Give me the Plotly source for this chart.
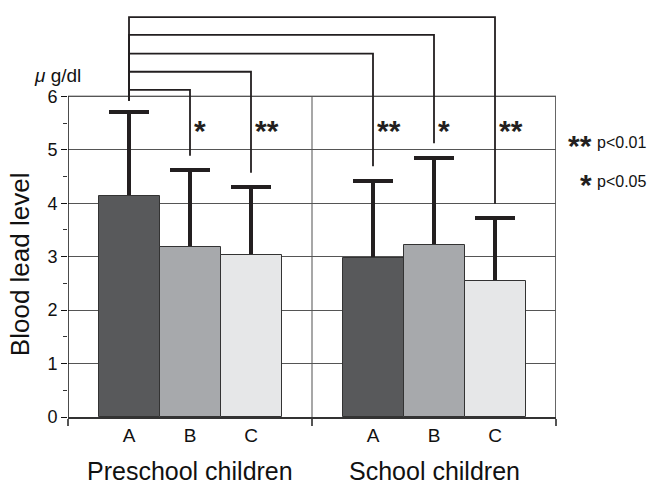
import plotly.graph_objects as go

# ---- data ----
groups = ["Preschool children", "School children"]
categories = ["A", "B", "C"]
preschool_mean = [4.13, 3.19, 3.04]
school_mean = [2.97, 3.21, 2.54]
preschool_sd = [1.57, 1.43, 1.26]
school_sd = [1.45, 1.64, 1.18]
# comparisons vs Preschool A: (group index, category index, mark)
comparisons = [(0, 1, "*"), (0, 2, "**"), (1, 0, "**"), (1, 1, "*"), (1, 2, "**")]
bracket_levels = [6.12, 6.46, 6.80, 7.15, 7.48]
y_ticks = [0, 1, 2, 3, 4, 5, 6]
legend_marks = ["**", "*"]
legend_texts = ["p<0.01", "p<0.05"]

colors = ["#58595b", "#a7a9ac", "#e6e7e8"]
FONT = "Liberation Sans, Arial, sans-serif"

means = [preschool_mean, school_mean]
sds = [preschool_sd, school_sd]

L, R, T, B = 68, 99, 10, 68
PW = 655 - L - R


def px_to_paper(px):
    return (px - L) / PW


xs, ys, es, cs, labels = [], [], [], [], []
for g in range(len(groups)):
    for c in range(len(categories)):
        xs.append(g * 4 + c)
        ys.append(means[g][c])
        es.append(sds[g][c])
        cs.append(colors[c])
        labels.append(categories[c])

sink = 0.05  # hide the lower cap of the one-sided error bar beneath the bar
fig = go.Figure()
fig.add_trace(go.Bar(
    x=xs, y=[v - sink for v in ys], width=1,
    marker=dict(color="rgba(0,0,0,0)", line=dict(width=0)),
    error_y=dict(type="data", symmetric=False, array=[e + sink for e in es],
                 arrayminus=[0] * len(es), color="#231f20", thickness=4, width=20),
    showlegend=False, hoverinfo="skip",
))
fig.add_trace(go.Bar(
    x=xs, y=ys, width=1,
    marker=dict(color=cs, line=dict(color="#333333", width=1)),
    showlegend=False, hoverinfo="skip",
))

shapes = []
shapes.append(dict(type="line", xref="x", yref="y", x0=-1, x1=-1, y0=0, y1=6,
                   line=dict(color="#111", width=1.5), layer="above"))
shapes.append(dict(type="line", xref="x", yref="y", x0=3, x1=3, y0=0, y1=6,
                   line=dict(color="#8a8a8a", width=1.5), layer="below"))
shapes.append(dict(type="line", xref="x", yref="y", x0=7, x1=7, y0=0, y1=6,
                   line=dict(color="#333", width=1.5), layer="below"))
shapes.append(dict(type="line", xref="x", yref="y", x0=-1, x1=7, y0=6, y1=6,
                   line=dict(color="#111", width=1.3), layer="below"))

gap = 0.22
x_ref = 0
y_ref_bottom = preschool_mean[0] + preschool_sd[0] + gap
annots = []
for (g, c, mark), lvl in zip(comparisons, bracket_levels):
    xt = g * 4 + c
    bottom = means[g][c] + sds[g][c] + gap + 0.05
    shapes.append(dict(type="path", xref="x", yref="y",
                       path=f"M {x_ref},{y_ref_bottom} L {x_ref},{lvl} L {xt},{lvl} L {xt},{bottom}",
                       line=dict(color="#231f20", width=1.8)))
    annots.append(dict(x=xt, y=5.36, xref="x", yref="y", text=f"<b>{mark}</b>", showarrow=False,
                       xanchor="left", yanchor="middle", xshift=2,
                       font=dict(size=30, family=FONT, color="#231f20")))

for g, name in enumerate(groups):
    annots.append(dict(x=g * 4 + 1, y=0, xref="x", yref="y", text=name, showarrow=False,
                       yanchor="top", yshift=-38, font=dict(size=25, family=FONT, color="#111")))

annots.append(dict(x=px_to_paper(57), y=6.39, xref="paper", yref="y", text="<i>μ</i> g/dl",
                   showarrow=False, xanchor="center", yanchor="middle",
                   font=dict(size=19, family=FONT, color="#111")))
annots.append(dict(x=px_to_paper(20), y=2.86, xref="paper", yref="y", text="Blood lead level",
                   textangle=-90, showarrow=False, xanchor="center", yanchor="middle",
                   font=dict(size=26, family=FONT, color="#111")))
legend_y = [5.08, 4.35]
for m, t, yy in zip(legend_marks, legend_texts, legend_y):
    annots.append(dict(x=px_to_paper(594), y=yy, xref="paper", yref="y", text=f"<b>{m}</b>",
                       showarrow=False, xanchor="right", yanchor="middle",
                       font=dict(size=30, family=FONT, color="#231f20")))
    annots.append(dict(x=px_to_paper(595), y=yy + 0.05, xref="paper", yref="y", text=t,
                       showarrow=False, xanchor="left", yanchor="middle",
                       font=dict(size=16, family=FONT, color="#111")))

fig.update_layout(
    width=655, height=485,
    margin=dict(l=L, r=R, t=T, b=B),
    paper_bgcolor="white", plot_bgcolor="white",
    barmode="overlay", bargap=0, shapes=shapes, annotations=annots,
    font=dict(family=FONT, color="#111"),
    xaxis=dict(range=[-1, 7], tickvals=xs, ticktext=labels, ticks="",
               showgrid=False, zeroline=False, showline=True, linecolor="#333", linewidth=1.5,
               tickfont=dict(size=19, family=FONT, color="#111"),
               minor=dict(tickvals=[-1, 3, 7], ticks="outside", ticklen=7,
                          tickcolor="#555", tickwidth=1.5)),
    yaxis=dict(range=[0, 7.615], tickvals=y_ticks, ticks="outside", ticklen=6,
               tickcolor="#111", tickwidth=1.2,
               showgrid=True, gridcolor="#555", gridwidth=1,
               zeroline=False, showline=False,
               tickfont=dict(size=18, family=FONT, color="#111"),
               minor=dict(tickvals=[0.5, 1.5, 2.5, 3.5, 4.5, 5.5], ticks="outside",
                          ticklen=4, tickcolor="#333", showgrid=False)),
)

fig.write_html("out.html", config={"displayModeBar": False},
               post_script="document.body.style.margin='0';")
